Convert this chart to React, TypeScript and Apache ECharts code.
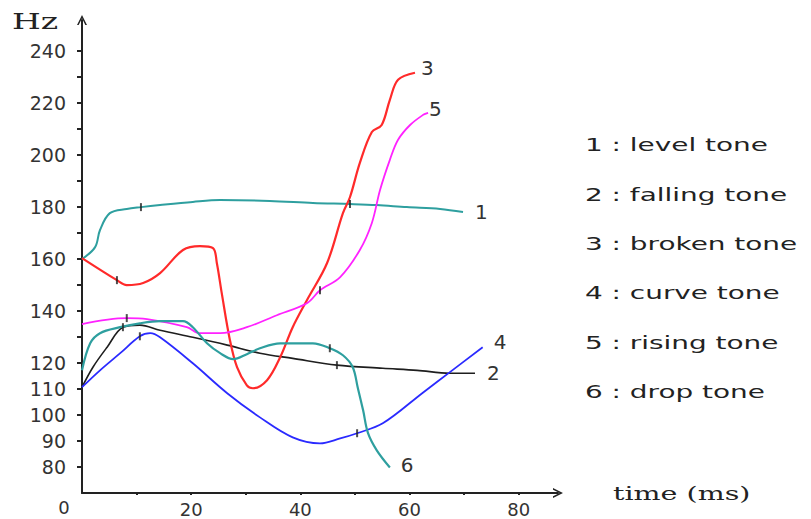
import { useEffect, useRef } from "react";
import * as echarts from "echarts";

// time (ms), Hz
const levelTone: [number, number][] = [
  [0, 160], [2.4, 164.6], [3.3, 171.2], [5.1, 177.7], [8.2, 179.3], [10.8, 180.0],
  [14.3, 180.8], [20.3, 182.0], [25.3, 182.7], [34.4, 182.4], [42.3, 181.6],
  [49.1, 181.2], [54, 180.8], [59.5, 180], [65.6, 179.3], [69.8, 178.1],
];
const fallingTone: [number, number][] = [
  [0, 110.7], [2, 118.4], [4.6, 126.1], [7.5, 133.8], [10.6, 134.6], [14.3, 132.6],
  [20.3, 129.9], [26.6, 126.9], [32.6, 123.8], [38.6, 121.8], [46.7, 119.2],
  [55.1, 118], [61.4, 117.2], [67.4, 116.1], [72, 116.1],
];
const brokenTone: [number, number][] = [
  [0, 160.4], [6.4, 151.9], [8.2, 150], [11.2, 150.8], [14.3, 154.6], [18.5, 163.5],
  [21.6, 165], [24, 164.2], [24.7, 158.5], [25.6, 146.9], [27.1, 128.8], [28.4, 118.4],
  [30.2, 111.4], [31.3, 110.3], [33.9, 113.4], [36.3, 122.2], [38.6, 133.8],
  [41.2, 144.2], [44.9, 158.5], [47.8, 177.7], [49.1, 183.9], [50.9, 197],
  [53.1, 208.9], [54.9, 211.6], [56.4, 221.3], [57.9, 229], [61, 231.7],
];
const curveTone: [number, number][] = [
  [0, 110.7], [3.3, 117.2], [7, 123.8], [10.6, 130.3], [12.5, 131.5], [14.3, 129.9],
  [20.3, 119.9], [26.6, 108.4], [32.6, 99.1], [38.6, 91.4], [43.6, 89.1], [47.3, 91],
  [50.4, 93], [55.1, 96.8], [62.5, 108.7], [67.4, 116.5], [73.4, 126.1],
];
const risingTone: [number, number][] = [
  [0, 135], [8.2, 137.3], [11.9, 136.9], [19.2, 133.8], [21.6, 131.5], [25.3, 131.5],
  [30.2, 133.8], [35.7, 138.4], [41.2, 143], [43.6, 148], [47.3, 153.1], [50.9, 163.5],
  [53.1, 173.9], [54.6, 186.6], [56.4, 198.2], [57.9, 205.9], [60.1, 211.6],
  [62.5, 215.5], [63.4, 216.3],
];
const dropTone: [number, number][] = [
  [0, 117.2], [1.5, 127.6], [3.3, 131.5], [7, 133.8], [10.6, 135.3], [14.3, 136.1],
  [18.5, 136.1], [20.3, 133.8], [22.9, 127.6], [25.3, 123.8], [27.7, 121.5],
  [30.2, 123.4], [32.6, 125.7], [36.3, 127.6], [42.3, 127.6], [45.4, 125.7],
  [47.8, 123], [49.6, 118.4], [50.5, 110.7], [51.5, 101.8], [52.4, 93], [54, 86.4],
  [56.4, 79.8],
];

// small vertical marks on the contours
const markPoints: [number, number][] = [
  [10.8, 180.0], [49.1, 181.2],
  [7.5, 133.8], [46.7, 119.2],
  [6.4, 151.9],
  [10.6, 130.3], [50.4, 93],
  [8.2, 137.3], [43.6, 148],
  [45.4, 125.7],
];

const toneNumbers = ["1", "2", "3", "4", "5", "6"];
const toneNames = ["level tone", "falling tone", "broken tone", "curve tone", "rising tone", "drop tone"];
const toneData = [levelTone, fallingTone, brokenTone, curveTone, risingTone, dropTone];

const yTickValues = [80, 90, 100, 110, 120, 130, 140, 150, 160, 170, 180, 190, 200, 210, 220, 230, 240];
const yLabelValues = [80, 90, 100, 110, 120, 140, 160, 180, 200, 220, 240];
const xTickValues = [10, 20, 30, 40, 50, 60, 70, 80];
const xLabelValues = [20, 40, 60, 80];

const toneColors = ["#2e9f9f", "#1e1e1e", "#ff2a2a", "#2a2aff", "#ff22ff", "#2e9f9f"];
const toneWidths = [2, 1.6, 2.2, 1.8, 1.8, 2.2];
const endLabelDist = [12, 12, 6, 11, 1, 11];
const endLabelDy = [0, 0, -5, -5, -4, -3];

const chevron = "path://M0,12 L6,0 L12,12 L10,12 L6,4 L2,12 Z";

export default function App() {
  const ref = useRef<HTMLDivElement>(null);
  useEffect(() => {
    if (!ref.current) return;
    const chart = echarts.init(ref.current, null, { renderer: "svg" });
    const series: any[] = toneData.map((d, i) => ({
      type: "line",
      name: toneNames[i],
      data: d,
      smooth: 0.35,
      showSymbol: false,
      symbol: "none",
      lineStyle: { color: toneColors[i], width: toneWidths[i] },
      itemStyle: { color: toneColors[i] },
      z: 3,
      endLabel: {
        show: true,
        formatter: toneNumbers[i],
        distance: endLabelDist[i],
        offset: [0, endLabelDy[i]],
        fontFamily: "DejaVu Sans",
        fontSize: 20,
        color: "#333",
      },
    }));
    series.push({
      type: "scatter",
      data: markPoints,
      symbol: "rect",
      symbolSize: [2, 8],
      itemStyle: { color: "#222" },
      z: 5,
    });
    const legendItems = toneNames.map((n, i) => ({
      type: "text",
      x: 585,
      y: 145 + i * 49.4,
      scaleX: 1.55,
      style: {
        text: `${toneNumbers[i]} : ${n}`,
        fontFamily: "DejaVu Sans",
        fontSize: 18,
        fill: "#222",
        align: "left",
        verticalAlign: "middle",
      },
    }));
    chart.setOption({
      animation: false,
      backgroundColor: "#ffffff",
      grid: { left: 82, right: 253, top: 20, bottom: 26, containLabel: false },
      xAxis: {
        type: "value",
        min: 0,
        max: 87.2,
        axisLine: {
          show: true,
          symbol: ["none", chevron],
          symbolSize: [10, 12],
          lineStyle: { color: "#222", width: 2 },
        },
        axisTick: { show: true, customValues: xTickValues, length: 2, lineStyle: { color: "#222", width: 2 } },
        axisLabel: {
          customValues: xLabelValues,
          margin: 7,
          fontFamily: "DejaVu Sans",
          fontSize: 18,
          color: "#333",
        },
        splitLine: { show: false },
      },
      yAxis: {
        type: "value",
        min: 70,
        max: 252,
        axisLine: {
          show: true,
          symbol: ["none", chevron],
          symbolSize: [10, 12],
          lineStyle: { color: "#222", width: 2 },
        },
        axisTick: { show: true, customValues: yTickValues, length: 5, lineStyle: { color: "#222", width: 2 } },
        axisLabel: {
          customValues: yLabelValues,
          margin: 16,
          fontFamily: "DejaVu Sans",
          fontSize: 19,
          color: "#333",
        },
        splitLine: { show: false },
      },
      graphic: [
        {
          type: "text",
          x: 12,
          y: 22,
          scaleX: 1.5,
          style: { text: "Hz", fontFamily: "DejaVu Serif", fontSize: 22, fill: "#222", align: "left", verticalAlign: "middle" },
        },
        {
          type: "text",
          x: 613,
          y: 494,
          scaleX: 1.5,
          style: { text: "time (ms)", fontFamily: "DejaVu Serif", fontSize: 19, fill: "#222", align: "left", verticalAlign: "middle" },
        },
        {
          type: "text",
          x: 64,
          y: 507,
          style: { text: "0", fontFamily: "DejaVu Sans", fontSize: 18, fill: "#333", align: "center", verticalAlign: "middle" },
        },
        ...legendItems,
      ],
      series,
    });
    return () => chart.dispose();
  }, []);
  return <div ref={ref} style={{ position: "fixed", left: 0, top: 0, width: 811, height: 519 }} />;
}
